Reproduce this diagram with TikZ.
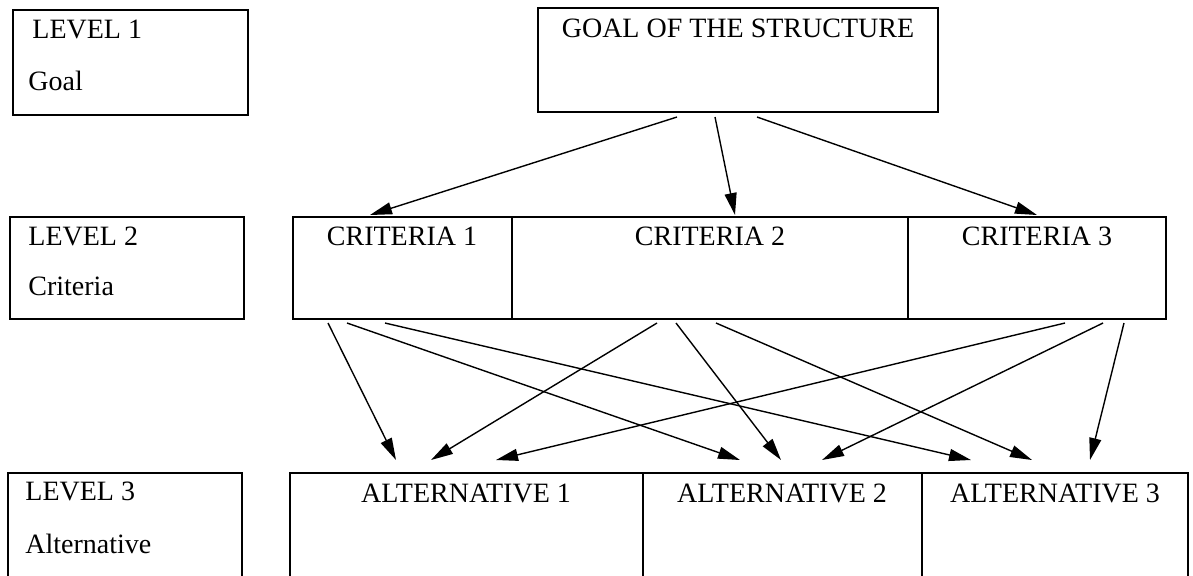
\documentclass[tikz,border=0pt]{standalone}
\usepackage{fontspec}
\setmainfont{Liberation Serif}
\usetikzlibrary{calc,arrows.meta}
\tikzset{
  box/.style={draw, line width=0.8pt, inner sep=0pt, outer sep=0pt, anchor=north west},
  lbl/.style={inner sep=0pt, font=\fontsize{14}{16}\selectfont},
  arr/.style={line width=0.7pt, -{Triangle[length=11pt,width=6pt]}}
}
\begin{document}
\begin{tikzpicture}[x=0.5pt,y=-0.5pt]
\useasboundingbox (0,0) rectangle (1193,575);
\clip (0,0) rectangle (1193,575);

% level descriptions on the left
\node[box, minimum width=117.5pt, minimum height=52.5pt] (lev1) at (13,10) {};
\node[box, minimum width=117pt, minimum height=51pt] (lev2) at (10,217) {};
\node[box, minimum width=117pt, minimum height=63.5pt] (lev3) at (8,473) {};
\node[lbl, anchor=base west] (lev1a) at (32,38) {LEVEL 1};
\node[lbl, anchor=base west] (lev1b) at (28,90) {Goal};
\node[lbl, anchor=base west] (lev2a) at (28,245) {LEVEL 2};
\node[lbl, anchor=base west] (lev2b) at (28,295) {Criteria};
\node[lbl, anchor=base west] (lev3a) at (25,500) {LEVEL 3};
\node[lbl, anchor=base west] (lev3b) at (25,553) {Alternative};

% goal
\node[box, minimum width=200pt, minimum height=52pt] (goal) at (538,8) {};
\node[lbl, anchor=base] (goalt) at (738,37) {GOAL OF THE STRUCTURE};

% criteria row
\node[box, minimum width=109.5pt, minimum height=51pt] (c1) at (293,217) {};
\node[box, minimum width=198pt, minimum height=51pt] (c2) at (512,217) {};
\node[box, minimum width=129pt, minimum height=51pt] (c3) at (908,217) {};
\node[lbl, anchor=base] (c1t) at (402,245) {CRITERIA 1};
\node[lbl, anchor=base] (c2t) at (710,245) {CRITERIA 2};
\node[lbl, anchor=base] (c3t) at (1037,245) {CRITERIA 3};

% alternatives row
\node[box, minimum width=176.5pt, minimum height=63.5pt] (a1) at (290,473) {};
\node[box, minimum width=139.5pt, minimum height=63.5pt] (a2) at (643,473) {};
\node[box, minimum width=133pt, minimum height=63.5pt] (a3) at (922,473) {};
\node[lbl, anchor=base] (a1t) at (466,502) {ALTERNATIVE 1};
\node[lbl, anchor=base] (a2t) at (782,502) {ALTERNATIVE 2};
\node[lbl, anchor=base] (a3t) at (1055,502) {ALTERNATIVE 3};

% goal to criteria
\draw[arr] ($(goal.south west)+(139,5)$) -- ($(c1.north west)+(77,-2)$);
\draw[arr] ($(goal.south west)+(177,5)$) -- ($(c2.north west)+(223,-2)$);
\draw[arr] ($(goal.south west)+(219,5)$) -- ($(c3.north west)+(129,-2)$);

% criteria to alternatives
\draw[arr] ($(c1.south west)+(35,4)$)  -- ($(a1.north west)+(106,-13)$);
\draw[arr] ($(c1.south west)+(54,4)$)  -- ($(a2.north west)+(97,-13)$);
\draw[arr] ($(c1.south west)+(92,4)$)  -- ($(a3.north west)+(49,-13)$);
\draw[arr] ($(c2.south west)+(145,4)$) -- ($(a1.north west)+(141,-13)$);
\draw[arr] ($(c2.south west)+(164,4)$) -- ($(a2.north west)+(138,-13)$);
\draw[arr] ($(c2.south west)+(204,4)$) -- ($(a3.north west)+(110,-13)$);
\draw[arr] ($(c3.south west)+(157,4)$) -- ($(a1.north west)+(206,-13)$);
\draw[arr] ($(c3.south west)+(195,4)$) -- ($(a2.north west)+(179,-13)$);
\draw[arr] ($(c3.south west)+(216,4)$) -- ($(a3.north west)+(168,-13)$);
\end{tikzpicture}
\end{document}
